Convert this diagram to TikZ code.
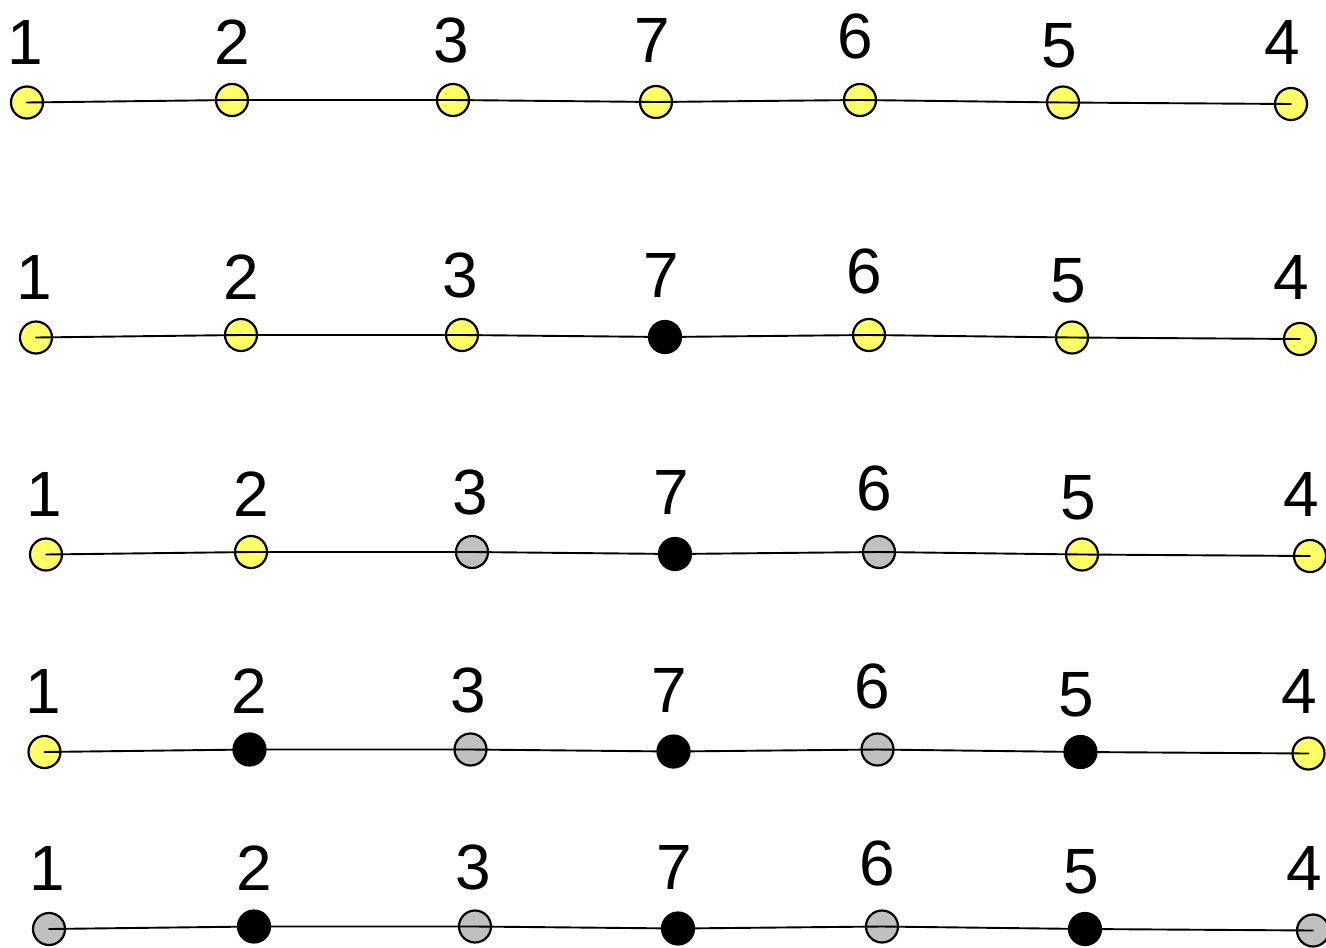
\documentclass[tikz,border=0pt]{standalone}
\usepackage{fontspec}
\setmainfont{Liberation Sans}
\definecolor{nodeyellow}{RGB}{255,255,102}
\definecolor{nodegray}{RGB}{192,192,192}
\newcommand\diagrow[9]{%
  \begin{scope}[shift={(#2)}]
    \node[#3] (n#1-1) at (27,102.5) {};
    \node[#4] (n#1-2) at (232,100) {};
    \node[#5] (n#1-3) at (453,100) {};
    \node[#6] (n#1-7) at (656,102) {};
    \node[#7] (n#1-6) at (860,100) {};
    \node[#8] (n#1-5) at (1063,102.5) {};
    \node[#9] (n#1-4) at (1291,104) {};
    \node[lab] (l#1-1) at (25.5,64) {1};
    \node[lab] (l#1-2) at (232,64) {2};
    \node[lab] (l#1-3) at (451,62.5) {3};
    \node[lab] (l#1-7) at (652,62.5) {7};
    \node[lab] (l#1-6) at (855,58.5) {6};
    \node[lab] (l#1-5) at (1059,67) {5};
    \node[lab] (l#1-4) at (1282,64) {4};
    \draw[edge] (n#1-1.center) -- (n#1-2.center) -- (n#1-3.center) -- (n#1-7.center)
      -- (n#1-6.center) -- (n#1-5.center) -- (n#1-4.center);
  \end{scope}}
\begin{document}
\begin{tikzpicture}[x=1pt,y=-1pt,
  vtx/.style={circle, minimum size=32pt, inner sep=0pt, line width=2.2pt, draw=black},
  Y/.style={vtx, fill=nodeyellow},
  G/.style={vtx, fill=nodegray},
  B/.style={vtx, fill=black},
  lab/.style={anchor=base, inner sep=0pt, font=\fontsize{64}{64}\selectfont},
  edge/.style={line width=1.9pt, line cap=round}]
  \useasboundingbox (0,0) rectangle (1326,948);
  \fill[white] (0,0) rectangle (1326,948);
  \diagrow{1}{0,0}{Y}{Y}{Y}{Y}{Y}{Y}{Y}
  \diagrow{2}{9,235}{Y}{Y}{Y}{B}{Y}{Y}{Y}
  \diagrow{3}{19,452}{Y}{Y}{G}{B}{G}{Y}{Y}
  \diagrow{4}{17.5,649.5}{Y}{B}{G}{B}{G}{B}{Y}
  \diagrow{5}{22,826.5}{G}{B}{G}{B}{G}{B}{G}
\end{tikzpicture}
\end{document}
